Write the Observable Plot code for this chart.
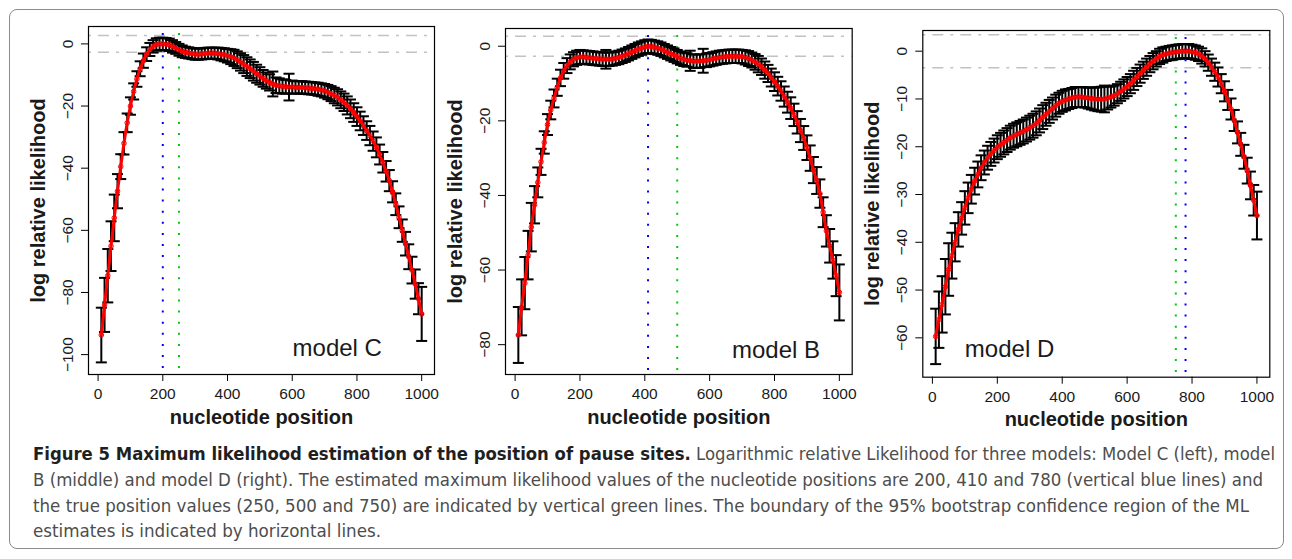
<!DOCTYPE html>
<html><head><meta charset="utf-8">
<script src="https://cdn.jsdelivr.net/npm/d3@7"></script>
<script src="https://cdn.jsdelivr.net/npm/@observablehq/plot@0.6"></script>
<style>
body{margin:0;background:#fff;}
#fig{position:relative;width:1292px;height:559px;overflow:hidden;background:#fff;}
#border{position:absolute;left:9px;top:9px;width:1275px;height:540px;border:1px solid #8c8c8c;border-radius:8px;box-sizing:border-box;}
.panel{position:absolute;top:0;}
.panel svg{display:block;overflow:visible;}
#caption{position:absolute;left:0;top:0;pointer-events:none;}
</style></head><body>
<div id="fig">
<div id="border"></div>
<div class="panel" id="pC" style="left:0px"></div>
<div class="panel" id="pB" style="left:440px"></div>
<div class="panel" id="pD" style="left:860px"></div>
<svg id="caption" width="1292" height="559" font-family="'Liberation Sans Narrow','DejaVu Sans Condensed','Liberation Sans',sans-serif" font-size="18">
<text x="33" y="460" textLength="1242" lengthAdjust="spacingAndGlyphs"><tspan font-weight="bold" fill="#1f1f1f">Figure 5 Maximum likelihood estimation of the position of pause sites.</tspan><tspan fill="#4d4d4d"> Logarithmic relative Likelihood for three models: Model C (left), model</tspan></text>
<text x="33" y="486" textLength="1230" lengthAdjust="spacingAndGlyphs" fill="#4d4d4d">B (middle) and model D (right). The estimated maximum likelihood values of the nucleotide positions are 200, 410 and 780 (vertical blue lines) and</text>
<text x="33" y="511.5" textLength="1216" lengthAdjust="spacingAndGlyphs" fill="#4d4d4d">the true position values (250, 500 and 750) are indicated by vertical green lines. The boundary of the 95% bootstrap confidence region of the ML</text>
<text x="33" y="537" textLength="348" lengthAdjust="spacingAndGlyphs" fill="#4d4d4d">estimates is indicated by horizontal lines.</text>
</svg>
</div>
<script>
// nucleotide positions (shared by all three models)
const positions = [10,20,30,40,50,60,70,80,90,100,110,120,130,140,150,160,170,180,190,200,
  210,220,230,240,250,260,270,280,290,300,310,320,330,340,350,360,370,380,390,400,
  410,420,430,440,450,460,470,480,490,500,510,520,530,540,550,560,570,580,590,600,
  610,620,630,640,650,660,670,680,690,700,710,720,730,740,750,760,770,780,790,800,
  810,820,830,840,850,860,870,880,890,900,910,920,930,940,950,960,970,980,990,1000];

// model C: log relative likelihood and bootstrap half-widths
const valuesC = [-93.7,-84.0,-74.6,-65.1,-56.0,-47.4,-39.5,-32.0,-25.4,-20.0,
  -15.3,-11.3,-8.0,-5.4,-3.3,-1.8,-0.8,-0.2,0.0,0.0,
  -0.1,-0.3,-0.8,-1.3,-1.9,-2.4,-2.7,-2.9,-3.1,-3.3,
  -3.3,-3.2,-3.1,-3.0,-3.0,-3.0,-3.1,-3.3,-3.5,-3.8,
  -4.1,-4.5,-5.1,-5.8,-6.5,-7.3,-8.0,-8.8,-9.6,-10.3,
  -11.1,-11.8,-12.4,-12.9,-13.3,-13.5,-13.7,-13.8,-13.9,-13.9,
  -14.0,-14.0,-14.0,-14.1,-14.2,-14.3,-14.4,-14.6,-14.8,-15.1,
  -15.5,-16.0,-16.6,-17.2,-18.0,-18.8,-19.8,-20.9,-22.1,-23.4,
  -24.8,-26.3,-27.9,-29.5,-31.3,-33.3,-35.6,-38.1,-41.0,-44.0,
  -47.6,-51.6,-55.8,-60.1,-64.3,-68.5,-72.8,-77.3,-82.0,-86.9];
const errorsC = [8.8,8.7,8.6,8.0,7.5,5.5,4.0,3.6,3.0,2.8,
  2.6,2.5,2.4,2.3,2.2,2.1,2.0,2.0,2.0,2.0,
  2.0,2.0,2.0,1.9,1.9,1.9,1.8,1.8,1.8,1.8,
  1.8,1.8,1.8,1.8,1.8,1.8,1.9,2.0,2.1,2.2,
  2.4,2.6,2.7,2.8,2.9,3.0,3.0,3.0,2.9,2.8,
  2.7,2.6,2.6,4.0,2.5,2.4,2.3,2.2,4.3,2.1,
  2.0,2.0,2.0,2.0,2.0,2.0,2.0,2.1,2.1,2.2,
  2.3,2.4,2.5,2.6,2.7,2.8,2.9,3.0,3.0,3.0,
  3.0,3.0,3.0,3.1,3.1,3.2,3.2,3.3,3.3,3.4,
  3.4,3.5,3.5,3.6,3.8,4.0,4.3,4.7,5.0,8.7];

// model B
const valuesB = [-77.4,-70.0,-63.5,-56.0,-48.5,-42.5,-36.5,-31.0,-25.8,-21.0,
  -17.1,-14.0,-11.0,-8.5,-6.6,-5.2,-4.2,-3.5,-3.1,-2.9,
  -2.9,-3.0,-3.1,-3.2,-3.3,-3.4,-3.5,-3.5,-3.5,-3.4,
  -3.2,-3.0,-2.7,-2.4,-2.0,-1.6,-1.2,-0.8,-0.5,-0.2,
  0.0,-0.1,-0.3,-0.5,-0.8,-1.2,-1.6,-2.0,-2.4,-2.8,
  -3.2,-3.5,-3.7,-3.9,-4.0,-4.0,-4.0,-3.9,-3.8,-3.6,
  -3.4,-3.2,-3.0,-2.9,-2.8,-2.7,-2.7,-2.7,-2.7,-2.8,
  -3.0,-3.3,-3.7,-4.2,-4.8,-5.5,-6.4,-7.3,-8.4,-9.5,
  -10.7,-12.0,-13.5,-15.0,-16.6,-18.4,-20.4,-22.6,-24.6,-27.2,
  -30.0,-33.2,-36.0,-39.5,-44.5,-49.5,-53.5,-57.3,-61.5,-66.0];
const errorsB = [7.5,7.5,7.0,6.5,6.5,5.0,4.0,3.5,3.0,2.8,
  2.5,2.4,2.3,2.2,2.1,2.0,2.0,1.9,1.9,1.9,
  1.8,1.8,1.8,1.8,1.8,1.8,1.8,2.5,1.8,1.8,
  1.8,1.8,1.8,1.8,1.8,1.8,1.8,1.8,1.8,1.8,
  1.8,1.8,1.8,1.8,1.8,1.8,1.8,1.8,1.8,1.8,
  1.8,1.8,1.8,2.7,1.8,1.8,1.8,3.2,1.8,1.8,
  1.8,1.8,1.8,1.8,1.8,1.8,1.8,1.8,1.8,1.8,
  1.9,2.0,2.0,2.1,2.2,2.2,2.3,2.3,2.4,2.5,
  2.5,2.6,2.7,2.8,2.9,3.0,3.0,3.1,3.2,3.3,
  3.4,3.5,3.6,3.8,4.0,4.2,4.5,5.0,5.5,7.5];

// model D
const valuesD = [-59.7,-56.2,-53.0,-49.3,-45.7,-42.8,-40.0,-37.3,-35.0,-32.8,
  -30.7,-28.9,-27.2,-25.8,-24.4,-23.3,-22.3,-21.5,-20.8,-20.1,
  -19.6,-19.1,-18.6,-18.1,-17.7,-17.4,-17.1,-16.8,-16.4,-16.0,
  -15.6,-15.1,-14.5,-13.8,-13.2,-12.6,-12.0,-11.4,-10.9,-10.5,
  -10.2,-10.0,-9.8,-9.6,-9.6,-9.6,-9.7,-9.8,-9.9,-10.0,
  -10.05,-10.05,-10.0,-9.8,-9.6,-9.3,-8.9,-8.4,-7.9,-7.4,
  -6.8,-6.1,-5.4,-4.7,-4.0,-3.35,-2.7,-2.1,-1.6,-1.1,
  -0.8,-0.56,-0.4,-0.28,-0.17,-0.07,-0.02,0.0,0.0,-0.14,
  -0.3,-0.56,-1.0,-1.6,-2.4,-3.35,-4.3,-5.4,-6.8,-8.4,
  -10.2,-12.1,-14.5,-17.0,-19.5,-22.1,-25.0,-28.1,-31.2,-34.4];
const errorsD = [5.8,5.9,5.9,5.8,5.5,4.8,4.0,3.6,3.4,3.5,
  3.2,3.0,2.8,2.7,2.6,2.5,2.5,2.5,2.5,2.5,
  2.5,2.5,2.5,2.5,2.5,2.5,2.5,2.5,2.5,2.5,
  2.5,2.5,2.5,2.5,2.4,2.4,2.3,2.3,2.2,2.2,
  2.2,2.1,2.1,2.1,2.1,2.1,2.1,2.2,2.3,2.4,
  2.5,2.6,2.8,2.4,2.2,2.1,2.0,2.0,2.0,2.0,
  2.0,2.0,1.9,1.9,1.8,1.8,1.7,1.7,1.6,1.6,
  1.6,1.5,1.5,1.5,1.5,1.5,1.5,1.5,1.5,1.5,
  1.5,1.5,1.6,1.6,1.7,1.8,1.9,2.0,2.0,2.1,
  2.1,2.2,2.2,2.3,2.4,2.5,2.7,2.9,3.2,5.0];

// reference lines
const mlEstimates = [200, 410, 780];      // blue
const truePositions = [250, 500, 750];    // green
const ciBoundsC = [2.7, -2.7];
const ciBoundsB = [2.7, -2.7];
const ciBoundsD = [3.45, -3.45];

// ticks and labels
const xTicks = [0, 200, 400, 600, 800, 1000];
const yTicksC = [0, -20, -40, -60, -80, -100];
const yTicksB = [0, -20, -40, -60, -80];
const yTicksD = [0, -10, -20, -30, -40, -50, -60];
const modelLabels = ["model C", "model B", "model D"];
const xTitle = "nucleotide position";
const yTitle = "log relative likelihood";

const capSymbol = {draw(ctx) { ctx.moveTo(-5.5, 0); ctx.lineTo(5.5, 0); }};
const fmt = d3.format("d");

function panel(o) {
  const data = positions.map((x, i) => ({x, y: o.values[i], lo: o.values[i] - o.errors[i], hi: o.values[i] + o.errors[i]}));
  return Plot.plot({
    width: o.width, height: o.height,
    marginLeft: o.ml, marginRight: o.mr, marginTop: o.mt, marginBottom: o.mb,
    x: {domain: [-29.6, 1039.6], label: null},
    y: {domain: o.yDomain, label: null},
    style: {fontFamily: "'Liberation Sans', Arial, Helvetica, sans-serif", background: "transparent", color: "black", overflow: "visible"},
    marks: [
      Plot.ruleY(o.ci, {stroke: "#c2c2c2", strokeWidth: 1.5, strokeDasharray: "3 7 11 7"}),
      Plot.ruleX([o.blue], {stroke: "#0000ff", strokeWidth: 2, strokeDasharray: "2 9.1", strokeDashoffset: 4}),
      Plot.ruleX([o.green], {stroke: "#00cc00", strokeWidth: 2, strokeDasharray: "2 9.1", strokeDashoffset: 4}),
      Plot.ruleX(data, {x: "x", y1: "lo", y2: "hi", stroke: "black", strokeWidth: 2}),
      Plot.dot(data, {x: "x", y: "lo", symbol: capSymbol, stroke: "black", fill: "none", strokeWidth: 2}),
      Plot.dot(data, {x: "x", y: "hi", symbol: capSymbol, stroke: "black", fill: "none", strokeWidth: 2}),
      Plot.line(data, {x: "x", y: "y", stroke: "#ff0000", strokeWidth: 3, curve: "natural"}),
      Plot.dot(data, {x: "x", y: "y", r: 2.3, stroke: "#ff0000", fill: "none", strokeWidth: 1}),
      Plot.frame({stroke: "black", strokeWidth: 1.2}),
      Plot.axisX({ticks: xTicks, tickSize: 7, tickPadding: 6.5, fontSize: 15.5, tickFormat: fmt, label: null, fill: "#1a1a1a"}),
      Plot.axisY({ticks: o.yTicks, tickSize: 7, tickPadding: 8.5, tickRotate: -90, fontSize: 15.5, tickFormat: fmt, label: null, fill: "#1a1a1a"}),
      Plot.text([xTitle], {frameAnchor: "bottom", dy: 49, textAnchor: "middle", lineAnchor: "bottom", fontSize: 20, fontWeight: "bold", fill: "#1a1a1a"}),
      Plot.text([yTitle], {frameAnchor: "left", dx: -44, rotate: -90, textAnchor: "middle", lineAnchor: "bottom", fontSize: 20, fontWeight: "bold", fill: "#1a1a1a"}),
      Plot.text([o.label], {x: () => o.labelX, y: () => o.labelY, textAnchor: "start", lineAnchor: "bottom", fontSize: 24, fill: "#1a1a1a"})
    ]
  });
}

document.getElementById("pC").append(panel({
  values: valuesC, errors: errorsC, ci: ciBoundsC, blue: mlEstimates[0], green: truePositions[0],
  yDomain: [-106.4, 5.6], yTicks: yTicksC, label: modelLabels[0], labelX: 601, labelY: -100.6,
  width: 440, height: 440, ml: 88, mr: 6, mt: 26, mb: 66
}));
document.getElementById("pB").append(panel({
  values: valuesB, errors: errorsB, ci: ciBoundsB, blue: mlEstimates[1], green: truePositions[1],
  yDomain: [-88.0, 4.75], yTicks: yTicksB, label: modelLabels[1], labelX: 669, labelY: -83.5,
  width: 420, height: 440, ml: 65, mr: 8.3, mt: 28, mb: 66
}));
document.getElementById("pD").append(panel({
  values: valuesD, errors: errorsD, ci: ciBoundsD, blue: mlEstimates[2], green: truePositions[2],
  yDomain: [-68.24, 4.33], yTicks: yTicksD, label: modelLabels[2], labelX: 100, labelY: -64,
  width: 432, height: 440, ml: 62.3, mr: 22.7, mt: 30, mb: 63.3
}));
</script>
</body></html>
